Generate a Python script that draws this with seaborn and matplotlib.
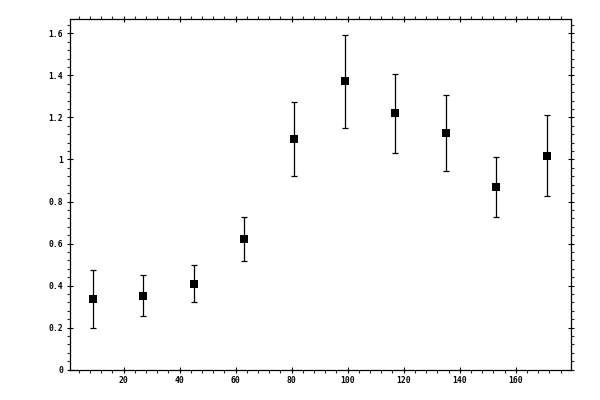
import matplotlib
matplotlib.use("Agg")
import matplotlib.pyplot as plt
from matplotlib.ticker import MultipleLocator, FuncFormatter
import seaborn as sns
import pandas as pd

# bin centres and measured values
x_vals = [9, 27, 45, 63, 81, 99, 117, 135, 153, 171]
y_vals = [0.337, 0.351, 0.408, 0.622, 1.098, 1.375, 1.222, 1.127, 0.870, 1.018]
y_upper = [0.475, 0.448, 0.498, 0.725, 1.275, 1.592, 1.408, 1.306, 1.013, 1.213]
y_lower = [0.199, 0.256, 0.322, 0.519, 0.922, 1.151, 1.032, 0.946, 0.727, 0.827]

df = pd.DataFrame({"x": x_vals, "y": y_vals, "hi": y_upper, "lo": y_lower})

sns.set_style("ticks")
plt.rcParams["font.family"] = ["DejaVu Sans Mono"]

fig = plt.figure(figsize=(6, 4), dpi=100)
ax = fig.add_axes([0.116, 0.076, 0.835, 0.876])

ax.errorbar(df["x"], df["y"],
            yerr=[df["y"] - df["lo"], df["hi"] - df["y"]],
            fmt="none", ecolor="black", elinewidth=0.9, capsize=2.2, capthick=0.9)
sns.scatterplot(data=df, x="x", y="y", marker="s", s=40, color="black",
                edgecolor="black", linewidth=0, ax=ax, zorder=3)

ax.set_xlim(0.7, 179.6)
ax.set_ylim(0, 1.6676)
ax.set_xlabel("")
ax.set_ylabel("")

ax.xaxis.set_major_locator(MultipleLocator(20))
ax.xaxis.set_minor_locator(MultipleLocator(4))
ax.yaxis.set_major_locator(MultipleLocator(0.2))
ax.yaxis.set_minor_locator(MultipleLocator(0.04))

def fmt(v, pos):
    return "%g" % round(v, 6)

ax.xaxis.set_major_formatter(FuncFormatter(lambda v, p: "" if v == 0 else fmt(v, p)))
ax.yaxis.set_major_formatter(FuncFormatter(fmt))

ax.tick_params(which="major", direction="inout", length=5, width=0.8,
               top=True, right=True, labelsize=5.8, pad=2, colors="black")
ax.tick_params(which="minor", direction="out", length=2.5, width=0.8,
               top=True, right=True)
for lab in ax.get_xticklabels() + ax.get_yticklabels():
    lab.set_fontweight("bold")
for sp in ax.spines.values():
    sp.set_linewidth(0.9)
    sp.set_color("black")

fig.savefig("out.png", dpi=100)
